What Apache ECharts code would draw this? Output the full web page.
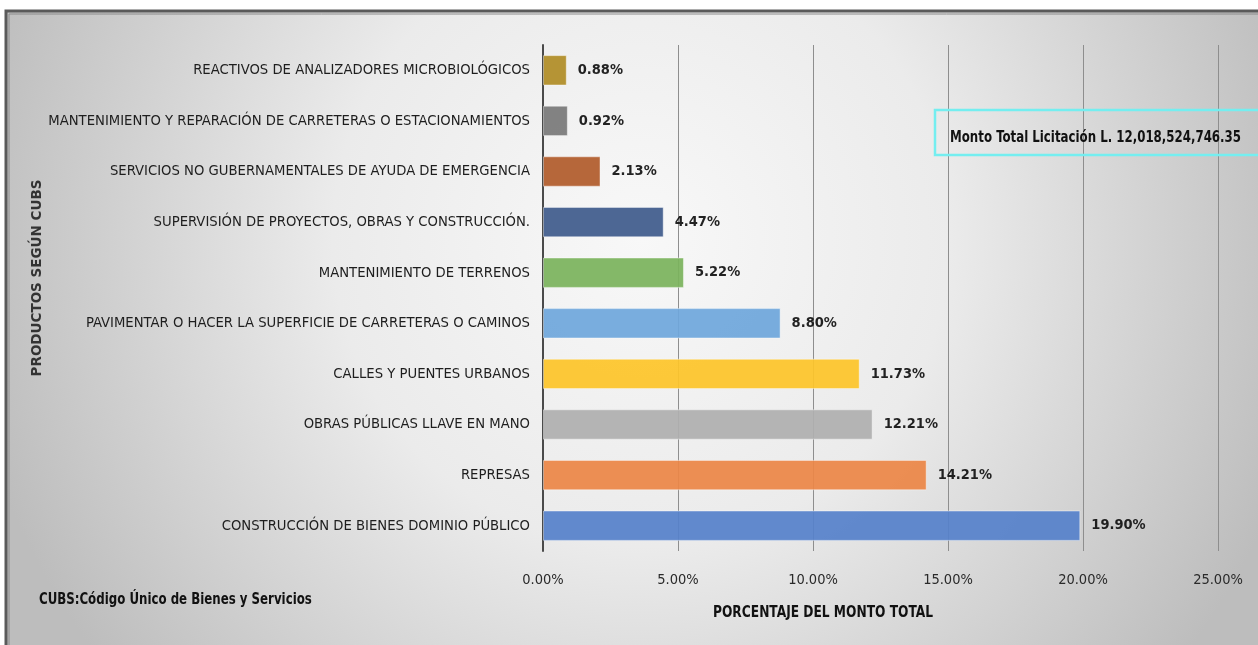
<!DOCTYPE html>
<html><head><meta charset="utf-8">
<script src="https://cdn.jsdelivr.net/npm/echarts@6/dist/echarts.min.js"></script>
<style>html,body{margin:0;padding:0;background:#fff}#c{width:1258px;height:645px}</style>
</head><body><div id="c"></div>
<script>
// Data (bottom to top, as drawn by the category axis)
const categories = [
  "CONSTRUCCIÓN DE BIENES DOMINIO PÚBLICO",
  "REPRESAS",
  "OBRAS PÚBLICAS LLAVE EN MANO",
  "CALLES Y PUENTES URBANOS",
  "PAVIMENTAR O HACER LA SUPERFICIE DE CARRETERAS O CAMINOS",
  "MANTENIMIENTO DE TERRENOS",
  "SUPERVISIÓN DE PROYECTOS, OBRAS Y CONSTRUCCIÓN.",
  "SERVICIOS NO GUBERNAMENTALES DE AYUDA DE EMERGENCIA",
  "MANTENIMIENTO Y REPARACIÓN DE CARRETERAS O ESTACIONAMIENTOS",
  "REACTIVOS DE ANALIZADORES MICROBIOLÓGICOS"
];
const values = [19.90, 14.21, 12.21, 11.73, 8.80, 5.22, 4.47, 2.13, 0.92, 0.88];
const barColors = ["#5681CA","#EC8747","#AFAFAF","#FDC52A","#6FA7DC","#7BB35C","#3F5B8C","#B05B2B","#7A7A7A","#B08D27"];
const xTicks = [0, 5, 10, 15, 20, 25];
const axisTitleX = "PORCENTAJE DEL MONTO TOTAL";
const axisTitleY = "PRODUCTOS SEGÚN CUBS";
const noteText = "CUBS:Código Único de Bienes y Servicios";
const totalText = "Monto Total Licitación L. 12,018,524,746.35";

const NARROW = "'Liberation Sans Narrow','DejaVu Sans Condensed',sans-serif";
const chart = echarts.init(document.getElementById('c'), null, {renderer:'canvas'});
chart.setOption({
  animation:false,
  backgroundColor:'#ffffff',
  grid:{left:543, right:40, top:45, bottom:94, containLabel:false},
  xAxis:{
    type:'value', min:xTicks[0], max:xTicks[xTicks.length-1], interval:5,
    axisLine:{show:false}, axisTick:{show:false},
    splitLine:{show:true, lineStyle:{color:'#8e8e8e', width:1}},
    axisLabel:{margin:22, fontFamily:NARROW, fontSize:14.5, color:'#2a2a2a',
      formatter:v=>v.toFixed(2)+'%'}
  },
  yAxis:{
    type:'category', data:categories,
    axisLine:{show:true, lineStyle:{color:'#4a4a4a', width:2}},
    axisTick:{show:false},
    axisLabel:{margin:13, fontFamily:NARROW, fontSize:14.7, color:'#1e1e1e'}
  },
  series:[{
    type:'bar', barCategoryGap:'40%',
    data:values.map((v,i)=>({value:v, itemStyle:{color:barColors[i]}})),
    itemStyle:{opacity:0.93, borderColor:'rgba(255,255,255,0.45)', borderWidth:1},
    label:{show:true, position:'right', distance:11, fontFamily:NARROW, fontWeight:'bold',
      fontSize:14.5, color:'#111', formatter:p=>p.value.toFixed(2)+'%'}
  }],
  graphic:[
    {type:'rect', z:-10, silent:true, shape:{x:6, y:11, width:1270, height:650},
      style:{fill:{type:'radial', x:0.5, y:0.35, r:1.05, colorStops:[
        {offset:0,color:'#f8f8f8'},{offset:0.45,color:'#ebebeb'},{offset:1,color:'#bdbdbd'}]},
        stroke:'#5a5a5a', lineWidth:3}},
    {type:'rect', z:-9, silent:true, shape:{x:9, y:14, width:1264, height:644},
      style:{fill:null, stroke:'#8a8a8a', lineWidth:1}},
    {type:'text', x:37, y:278, rotation:Math.PI/2, z:10,
      style:{text:axisTitleY, font:"bold 13.5px 'DejaVu Sans',sans-serif", fill:'#333', textAlign:'center', textVerticalAlign:'middle'}},
    {type:'text', x:823, y:613, z:10, scaleX:0.85,
      style:{text:axisTitleX, font:"bold 16px "+NARROW, fill:'#111', textAlign:'center', textVerticalAlign:'middle'}},
    {type:'text', x:39, y:600, z:10, scaleX:0.82,
      style:{text:noteText, font:"bold 16px "+NARROW, fill:'#111', textAlign:'left', textVerticalAlign:'middle'}},
    {type:'rect', z:10, shape:{x:935, y:110, width:340, height:45},
      style:{fill:'rgba(255,255,255,0)', stroke:'#74eef0', lineWidth:2.5}},
    {type:'text', x:950, y:138, z:11, scaleX:0.82,
      style:{text:totalText, font:"bold 16px "+NARROW, fill:'#111', textAlign:'left', textVerticalAlign:'middle'}}
  ]
});
</script></body></html>
